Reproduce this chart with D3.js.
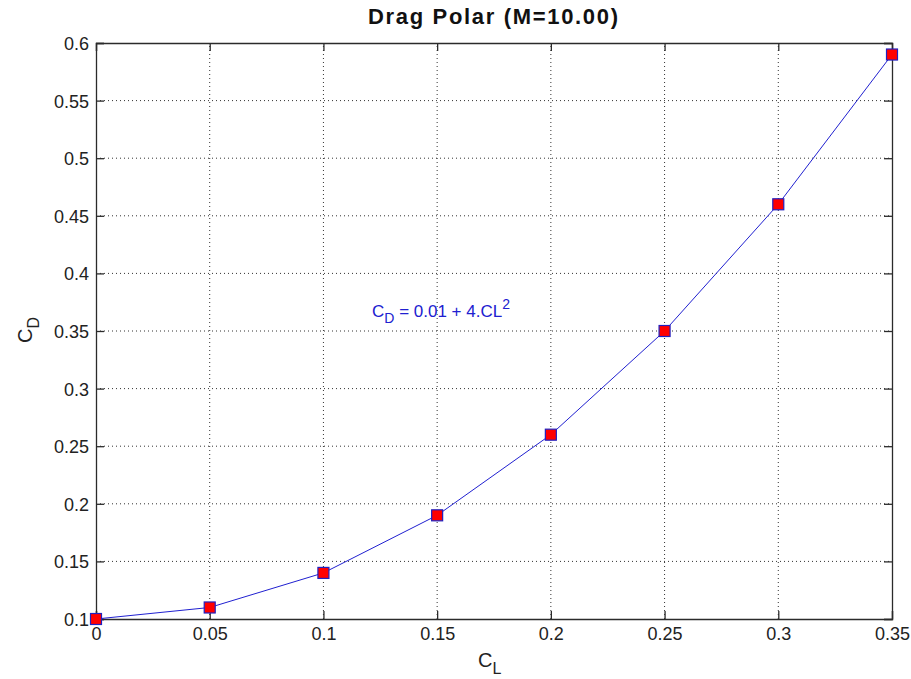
<!DOCTYPE html>
<html>
<head>
<meta charset="utf-8">
<script src="https://cdn.jsdelivr.net/npm/d3@7/dist/d3.min.js"></script>
<style>
  html, body { margin: 0; padding: 0; background: #fff; }
  svg { display: block; font-family: Arial, "Liberation Sans", sans-serif; }
</style>
</head>
<body>
<svg id="chart" width="911" height="679"></svg>
<script>
// Lift coefficient samples and the drag coefficient measured at each
const liftCoeff = [0, 0.05, 0.1, 0.15, 0.2, 0.25, 0.3, 0.35];
const dragCoeff = [0.10, 0.11, 0.14, 0.19, 0.26, 0.35, 0.46, 0.59];

const xTicks = [0, 0.05, 0.1, 0.15, 0.2, 0.25, 0.3, 0.35];
const yTicks = [0.1, 0.15, 0.2, 0.25, 0.3, 0.35, 0.4, 0.45, 0.5, 0.55, 0.6];

const titleText = "Drag Polar (M=10.00)";

const svg = d3.select("#chart");
const W = 911, H = 679;
const margin = { left: 96, top: 43, right: W - 892, bottom: H - 619 };

const x = d3.scaleLinear().domain([0, 0.35]).range([margin.left, W - margin.right]);
const y = d3.scaleLinear().domain([0.1, 0.6]).range([H - margin.bottom, margin.top]);

const axisColor = "#2b2b2b";
const fontSize = 18;
const tickLen = 8;

// dotted grid
const grid = svg.append("g");
grid.selectAll("line.gx").data(xTicks.slice(1, -1)).join("line")
  .attr("x1", d => x(d)).attr("x2", d => x(d))
  .attr("y1", y(0.1)).attr("y2", y(0.6))
  .attr("stroke", "#333").attr("stroke-width", 1)
  .attr("stroke-dasharray", "1,3");
grid.selectAll("line.gy").data(yTicks.slice(1, -1)).join("line")
  .attr("y1", d => y(d)).attr("y2", d => y(d))
  .attr("x1", x(0)).attr("x2", x(0.35))
  .attr("stroke", "#333").attr("stroke-width", 1)
  .attr("stroke-dasharray", "1,3");

// axes with inward ticks
const tickFmt = d => String(+d.toFixed(2));
const xAxis = d3.axisBottom(x).tickValues(xTicks).tickSize(-tickLen).tickFormat(tickFmt);
const yAxis = d3.axisLeft(y).tickValues(yTicks).tickSize(-tickLen).tickFormat(tickFmt);

const gx = svg.append("g").attr("transform", `translate(0,${y(0.1)})`).call(xAxis);
const gy = svg.append("g").attr("transform", `translate(${x(0)},0)`).call(yAxis);
// mirrored ticks on top and right
const gxTop = svg.append("g").attr("transform", `translate(0,${y(0.6)})`)
  .call(d3.axisTop(x).tickValues(xTicks).tickSize(-tickLen).tickFormat(""));
const gyRight = svg.append("g").attr("transform", `translate(${x(0.35)},0)`)
  .call(d3.axisRight(y).tickValues(yTicks).tickSize(-tickLen).tickFormat(""));

[gx, gy, gxTop, gyRight].forEach(g => {
  g.select(".domain").attr("stroke", axisColor).attr("stroke-width", 1.3);
  g.selectAll(".tick line").attr("stroke", axisColor).attr("stroke-width", 1.3);
  g.selectAll(".tick text").attr("fill", "#222").attr("font-size", fontSize)
    .attr("font-family", "Arial, 'Liberation Sans', sans-serif");
});
gx.selectAll(".tick text").attr("dy", null).attr("y", 21);
gy.selectAll(".tick text").attr("x", -7).attr("dy", "0.36em");

// polar curve
const line = d3.line().x((d, i) => x(liftCoeff[i])).y(d => y(d));
svg.append("path").datum(dragCoeff)
  .attr("d", line).attr("fill", "none")
  .attr("stroke", "#2020d0").attr("stroke-width", 1);

// square markers
const ms = 11;
svg.selectAll("rect.pt").data(dragCoeff).join("rect")
  .attr("x", (d, i) => x(liftCoeff[i]) - ms / 2)
  .attr("y", d => y(d) - ms / 2)
  .attr("width", ms).attr("height", ms)
  .attr("fill", "#ff0000").attr("stroke", "#2020c0").attr("stroke-width", 1.2);

// title
svg.append("text").attr("x", 368).attr("y", 24)
  .attr("font-size", 22).attr("font-weight", "bold")
  .attr("textLength", 250).attr("lengthAdjust", "spacing")
  .attr("fill", "#111").text(titleText);

// x label
const xl = svg.append("text").attr("x", 478).attr("y", 667)
  .attr("font-size", 20).attr("fill", "#222");
xl.append("tspan").text("C");
xl.append("tspan").attr("dy", 7).attr("font-size", 16).text("L");

// y label
const yl = svg.append("text").attr("transform", `translate(32,343) rotate(-90)`)
  .attr("font-size", 20).attr("fill", "#222");
yl.append("tspan").text("C");
yl.append("tspan").attr("dy", 7).attr("font-size", 16).text("D");

// fit annotation
const ann = svg.append("text").attr("x", 372).attr("y", 317)
  .attr("font-size", 17).attr("fill", "#2020d0");
ann.append("tspan").text("C");
ann.append("tspan").attr("dy", 6).attr("font-size", 14).text("D");
ann.append("tspan").attr("dy", -6).text(" = 0.01 + 4.CL");
ann.append("tspan").attr("dy", -8).attr("font-size", 14).text("2");
</script>
</body>
</html>
